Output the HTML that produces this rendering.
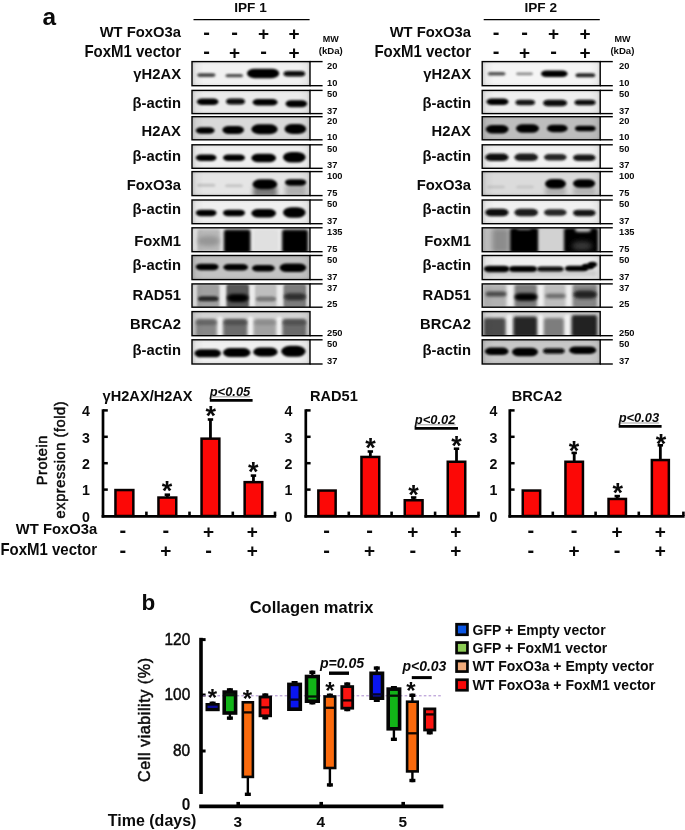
<!DOCTYPE html>
<html lang="en"><head><meta charset="utf-8"><title>Figure</title>
<style>html,body{margin:0;padding:0;background:#fff}svg{display:block}text{font-family:'Liberation Sans', Arial, Helvetica, sans-serif;fill:#0a0a0a}</style>
</head><body>
<svg width="685" height="830" viewBox="0 0 685 830">
<rect width="685" height="830" fill="#fff"/>
<defs><filter id="b1_0" x="-30%" y="-60%" width="160%" height="220%"><feGaussianBlur stdDeviation="1.0"/></filter><filter id="b1_3" x="-30%" y="-60%" width="160%" height="220%"><feGaussianBlur stdDeviation="1.3"/></filter><filter id="b1_1" x="-30%" y="-60%" width="160%" height="220%"><feGaussianBlur stdDeviation="1.1"/></filter><filter id="b1_2" x="-30%" y="-60%" width="160%" height="220%"><feGaussianBlur stdDeviation="1.2"/></filter><filter id="b2_0" x="-30%" y="-60%" width="160%" height="220%"><feGaussianBlur stdDeviation="2.0"/></filter><filter id="b2_5" x="-30%" y="-60%" width="160%" height="220%"><feGaussianBlur stdDeviation="2.5"/></filter><filter id="b1_5" x="-30%" y="-60%" width="160%" height="220%"><feGaussianBlur stdDeviation="1.5"/></filter><filter id="b1_4" x="-30%" y="-60%" width="160%" height="220%"><feGaussianBlur stdDeviation="1.4"/></filter><filter id="b2_2" x="-30%" y="-60%" width="160%" height="220%"><feGaussianBlur stdDeviation="2.2"/></filter><filter id="b1_8" x="-30%" y="-60%" width="160%" height="220%"><feGaussianBlur stdDeviation="1.8"/></filter><filter id="b1_6" x="-30%" y="-60%" width="160%" height="220%"><feGaussianBlur stdDeviation="1.6"/></filter></defs>
<defs><linearGradient id="vigH" x1="0" y1="0" x2="1" y2="0"><stop offset="0" stop-color="#000" stop-opacity="0.16"/><stop offset="0.035" stop-color="#000" stop-opacity="0.04"/><stop offset="0.1" stop-color="#000" stop-opacity="0"/><stop offset="0.9" stop-color="#000" stop-opacity="0"/><stop offset="0.965" stop-color="#000" stop-opacity="0.04"/><stop offset="1" stop-color="#000" stop-opacity="0.16"/></linearGradient></defs>
<text x="42.6" y="24.9" font-size="24.4" font-weight="bold" text-anchor="start">a</text>
<text x="250.5" y="11.8" font-size="13.6" font-weight="bold" text-anchor="middle">IPF 1</text>
<line x1="193.5" y1="19.6" x2="309.6" y2="19.6" stroke="#000" stroke-width="1.2"/>
<text transform="translate(181 36.6) scale(1 1.045)" font-size="14.8" font-weight="bold" text-anchor="end">WT FoxO3a</text>
<text transform="translate(181 56.8) scale(1 1.045)" font-size="15.0" font-weight="bold" text-anchor="end">FoxM1 vector</text>
<text x="206.5" y="39.0" font-size="20" font-weight="bold" text-anchor="middle">-</text>
<text x="206.5" y="58.3" font-size="20" font-weight="bold" text-anchor="middle">-</text>
<text x="234.6" y="39.0" font-size="20" font-weight="bold" text-anchor="middle">-</text>
<text x="234.6" y="58.8" font-size="19" font-weight="bold" text-anchor="middle">+</text>
<text x="263.6" y="39.5" font-size="19" font-weight="bold" text-anchor="middle">+</text>
<text x="263.6" y="58.3" font-size="20" font-weight="bold" text-anchor="middle">-</text>
<text x="294.0" y="39.5" font-size="19" font-weight="bold" text-anchor="middle">+</text>
<text x="294.0" y="58.8" font-size="19" font-weight="bold" text-anchor="middle">+</text>
<text x="330.8" y="41.5" font-size="9.0" font-weight="bold" text-anchor="middle">MW</text>
<text x="330.8" y="53.8" font-size="9.6" font-weight="bold" text-anchor="middle">(kDa)</text>
<clipPath id="cL0"><rect x="192.0" y="61.6" width="118.00" height="24.10"/></clipPath>
<g clip-path="url(#cL0)">
<rect x="192.00" y="61.60" width="118.60" height="24.10" fill="url(#bgL0)"/>
<rect x="197.20" y="73.30" width="18.30" height="3.60" fill="rgb(70,70,70)" rx="2.9" ry="1.8" filter="url(#b1_0)"/>
<rect x="225.40" y="74.10" width="17.70" height="3.20" fill="rgb(80,80,80)" rx="2.6" ry="1.6" filter="url(#b1_0)"/>
<rect x="247.00" y="68.65" width="32.20" height="9.50" fill="rgb(0,0,0)" rx="7.6" ry="4.8" filter="url(#b1_3)"/>
<rect x="283.50" y="71.05" width="21.70" height="5.50" fill="rgb(10,10,10)" rx="4.4" ry="2.8" filter="url(#b1_1)"/>
<rect x="192.00" y="61.60" width="118.60" height="24.10" fill="url(#vigH)"/>
</g>
<linearGradient id="bgL0" x1="0" y1="0" x2="0" y2="1"><stop offset="0" stop-color="rgb(226,226,226)"/><stop offset="0.14" stop-color="rgb(241,241,241)"/><stop offset="0.86" stop-color="rgb(241,241,241)"/><stop offset="1" stop-color="rgb(226,226,226)"/></linearGradient>
<rect x="192.00" y="61.60" width="118.00" height="24.10" fill="none" stroke="#000" stroke-width="1.4"/>
<line x1="309.6" y1="61.6" x2="322.6" y2="61.6" stroke="#000" stroke-width="1.4"/>
<text x="327.0" y="68.6" font-size="9.3" font-weight="bold" text-anchor="start">20</text>
<line x1="309.6" y1="85.7" x2="322.6" y2="85.7" stroke="#000" stroke-width="1.4"/>
<text x="327.0" y="85.60000000000001" font-size="9.3" font-weight="bold" text-anchor="start">10</text>
<text transform="translate(181 79.0) scale(1 1.045)" font-size="14.8" font-weight="bold" text-anchor="end">γH2AX</text>
<clipPath id="cL1"><rect x="192.0" y="90.4" width="118.00" height="23.20"/></clipPath>
<g clip-path="url(#cL1)">
<rect x="192.00" y="90.40" width="118.60" height="23.20" fill="url(#bgL1)"/>
<rect x="196.80" y="98.45" width="21.70" height="6.50" fill="rgb(5,5,5)" rx="5.2" ry="3.2" filter="url(#b1_1)"/>
<rect x="226.00" y="98.40" width="19.00" height="6.00" fill="rgb(10,10,10)" rx="4.8" ry="3.0" filter="url(#b1_1)"/>
<rect x="252.60" y="99.05" width="25.00" height="6.50" fill="rgb(5,5,5)" rx="5.2" ry="3.2" filter="url(#b1_1)"/>
<rect x="285.50" y="100.20" width="21.70" height="7.00" fill="rgb(5,5,5)" rx="5.6" ry="3.5" filter="url(#b1_1)"/>
<rect x="192.00" y="90.40" width="118.60" height="23.20" fill="url(#vigH)"/>
</g>
<linearGradient id="bgL1" x1="0" y1="0" x2="0" y2="1"><stop offset="0" stop-color="rgb(220,220,220)"/><stop offset="0.14" stop-color="rgb(235,235,235)"/><stop offset="0.86" stop-color="rgb(235,235,235)"/><stop offset="1" stop-color="rgb(220,220,220)"/></linearGradient>
<rect x="192.00" y="90.40" width="118.00" height="23.20" fill="none" stroke="#000" stroke-width="1.4"/>
<line x1="309.6" y1="90.4" x2="322.6" y2="90.4" stroke="#000" stroke-width="1.4"/>
<text x="327.0" y="97.4" font-size="9.3" font-weight="bold" text-anchor="start">50</text>
<line x1="309.6" y1="113.6" x2="322.6" y2="113.6" stroke="#000" stroke-width="1.4"/>
<text x="327.0" y="113.5" font-size="9.3" font-weight="bold" text-anchor="start">37</text>
<text transform="translate(181 107.5) scale(1 1.045)" font-size="14.8" font-weight="bold" text-anchor="end">β-actin</text>
<clipPath id="cL2"><rect x="192.0" y="116.7" width="118.00" height="23.10"/></clipPath>
<g clip-path="url(#cL2)">
<rect x="192.00" y="116.70" width="118.60" height="23.10" fill="url(#bgL2)"/>
<rect x="195.80" y="127.25" width="18.80" height="6.50" fill="rgb(5,5,5)" rx="5.2" ry="3.2" filter="url(#b1_2)"/>
<rect x="222.40" y="126.00" width="21.60" height="8.00" fill="rgb(0,0,0)" rx="6.4" ry="4.0" filter="url(#b1_2)"/>
<rect x="251.40" y="124.30" width="26.20" height="10.00" fill="rgb(0,0,0)" rx="8.0" ry="5.0" filter="url(#b1_3)"/>
<rect x="284.50" y="124.00" width="21.70" height="10.00" fill="rgb(0,0,0)" rx="8.0" ry="5.0" filter="url(#b1_3)"/>
<rect x="192.00" y="116.70" width="118.60" height="23.10" fill="url(#vigH)"/>
</g>
<linearGradient id="bgL2" x1="0" y1="0" x2="0" y2="1"><stop offset="0" stop-color="rgb(202,202,202)"/><stop offset="0.14" stop-color="rgb(217,217,217)"/><stop offset="0.86" stop-color="rgb(217,217,217)"/><stop offset="1" stop-color="rgb(202,202,202)"/></linearGradient>
<rect x="192.00" y="116.70" width="118.00" height="23.10" fill="none" stroke="#000" stroke-width="1.4"/>
<line x1="309.6" y1="116.7" x2="322.6" y2="116.7" stroke="#000" stroke-width="1.4"/>
<text x="327.0" y="123.7" font-size="9.3" font-weight="bold" text-anchor="start">20</text>
<line x1="309.6" y1="139.8" x2="322.6" y2="139.8" stroke="#000" stroke-width="1.4"/>
<text x="327.0" y="139.70000000000002" font-size="9.3" font-weight="bold" text-anchor="start">10</text>
<text transform="translate(181 136.1) scale(1 1.045)" font-size="14.8" font-weight="bold" text-anchor="end">H2AX</text>
<clipPath id="cL3"><rect x="192.0" y="144.8" width="118.00" height="23.50"/></clipPath>
<g clip-path="url(#cL3)">
<rect x="192.00" y="144.80" width="118.60" height="23.50" fill="url(#bgL3)"/>
<rect x="195.80" y="154.45" width="20.70" height="6.50" fill="rgb(0,0,0)" rx="5.2" ry="3.2" filter="url(#b1_1)"/>
<rect x="223.00" y="154.45" width="22.00" height="6.50" fill="rgb(0,0,0)" rx="5.2" ry="3.2" filter="url(#b1_1)"/>
<rect x="251.40" y="153.85" width="24.60" height="8.50" fill="rgb(0,0,0)" rx="6.8" ry="4.2" filter="url(#b1_2)"/>
<rect x="283.00" y="152.05" width="22.60" height="10.50" fill="rgb(0,0,0)" rx="8.4" ry="5.2" filter="url(#b1_2)"/>
<rect x="192.00" y="144.80" width="118.60" height="23.50" fill="url(#vigH)"/>
</g>
<linearGradient id="bgL3" x1="0" y1="0" x2="0" y2="1"><stop offset="0" stop-color="rgb(224,224,224)"/><stop offset="0.14" stop-color="rgb(239,239,239)"/><stop offset="0.86" stop-color="rgb(239,239,239)"/><stop offset="1" stop-color="rgb(224,224,224)"/></linearGradient>
<rect x="192.00" y="144.80" width="118.00" height="23.50" fill="none" stroke="#000" stroke-width="1.4"/>
<line x1="309.6" y1="144.8" x2="322.6" y2="144.8" stroke="#000" stroke-width="1.4"/>
<text x="327.0" y="151.8" font-size="9.3" font-weight="bold" text-anchor="start">50</text>
<line x1="309.6" y1="168.3" x2="322.6" y2="168.3" stroke="#000" stroke-width="1.4"/>
<text x="327.0" y="168.20000000000002" font-size="9.3" font-weight="bold" text-anchor="start">37</text>
<text transform="translate(181 161.0) scale(1 1.045)" font-size="14.8" font-weight="bold" text-anchor="end">β-actin</text>
<clipPath id="cL4"><rect x="192.0" y="171.6" width="118.00" height="24.00"/></clipPath>
<g clip-path="url(#cL4)">
<rect x="192.00" y="171.60" width="118.60" height="24.00" fill="url(#bgL4)"/>
<rect x="253.00" y="186.00" width="24.00" height="11.00" fill="rgb(120,120,120)" rx="2.5" filter="url(#b2_0)"/>
<rect x="285.00" y="184.00" width="21.00" height="13.00" fill="rgb(175,175,175)" rx="2.5" filter="url(#b2_5)"/>
<rect x="197.00" y="183.80" width="18.50" height="3.00" fill="rgb(195,195,195)" rx="2.4" ry="1.5" filter="url(#b1_2)"/>
<rect x="225.00" y="184.20" width="18.00" height="3.00" fill="rgb(198,198,198)" rx="2.4" ry="1.5" filter="url(#b1_2)"/>
<rect x="252.60" y="179.30" width="24.60" height="10.00" fill="rgb(0,0,0)" rx="8.0" ry="5.0" filter="url(#b1_3)"/>
<rect x="285.00" y="179.15" width="21.20" height="6.50" fill="rgb(0,0,0)" rx="5.2" ry="3.2" filter="url(#b1_2)"/>
<rect x="192.00" y="171.60" width="118.60" height="24.00" fill="url(#vigH)"/>
</g>
<linearGradient id="bgL4" x1="0" y1="0" x2="0" y2="1"><stop offset="0" stop-color="rgb(214,214,214)"/><stop offset="0.14" stop-color="rgb(229,229,229)"/><stop offset="0.86" stop-color="rgb(229,229,229)"/><stop offset="1" stop-color="rgb(214,214,214)"/></linearGradient>
<rect x="192.00" y="171.60" width="118.00" height="24.00" fill="none" stroke="#000" stroke-width="1.4"/>
<line x1="309.6" y1="171.6" x2="322.6" y2="171.6" stroke="#000" stroke-width="1.4"/>
<text x="327.0" y="178.6" font-size="9.3" font-weight="bold" text-anchor="start">100</text>
<line x1="309.6" y1="195.6" x2="322.6" y2="195.6" stroke="#000" stroke-width="1.4"/>
<text x="327.0" y="195.5" font-size="9.3" font-weight="bold" text-anchor="start">75</text>
<text transform="translate(181 189.7) scale(1 1.045)" font-size="14.8" font-weight="bold" text-anchor="end">FoxO3a</text>
<clipPath id="cL5"><rect x="192.0" y="200.0" width="118.00" height="23.70"/></clipPath>
<g clip-path="url(#cL5)">
<rect x="192.00" y="200.00" width="118.60" height="23.70" fill="url(#bgL5)"/>
<rect x="195.80" y="209.65" width="20.70" height="6.50" fill="rgb(0,0,0)" rx="5.2" ry="3.2" filter="url(#b1_1)"/>
<rect x="223.00" y="209.65" width="22.00" height="6.50" fill="rgb(0,0,0)" rx="5.2" ry="3.2" filter="url(#b1_1)"/>
<rect x="251.40" y="209.05" width="24.60" height="8.50" fill="rgb(0,0,0)" rx="6.8" ry="4.2" filter="url(#b1_2)"/>
<rect x="283.00" y="207.25" width="22.60" height="10.50" fill="rgb(0,0,0)" rx="8.4" ry="5.2" filter="url(#b1_2)"/>
<rect x="192.00" y="200.00" width="118.60" height="23.70" fill="url(#vigH)"/>
</g>
<linearGradient id="bgL5" x1="0" y1="0" x2="0" y2="1"><stop offset="0" stop-color="rgb(224,224,224)"/><stop offset="0.14" stop-color="rgb(239,239,239)"/><stop offset="0.86" stop-color="rgb(239,239,239)"/><stop offset="1" stop-color="rgb(224,224,224)"/></linearGradient>
<rect x="192.00" y="200.00" width="118.00" height="23.70" fill="none" stroke="#000" stroke-width="1.4"/>
<line x1="309.6" y1="200.0" x2="322.6" y2="200.0" stroke="#000" stroke-width="1.4"/>
<text x="327.0" y="207.0" font-size="9.3" font-weight="bold" text-anchor="start">50</text>
<line x1="309.6" y1="223.7" x2="322.6" y2="223.7" stroke="#000" stroke-width="1.4"/>
<text x="327.0" y="223.6" font-size="9.3" font-weight="bold" text-anchor="start">37</text>
<text transform="translate(181 214.3) scale(1 1.045)" font-size="14.8" font-weight="bold" text-anchor="end">β-actin</text>
<clipPath id="cL6"><rect x="192.0" y="227.8" width="118.00" height="23.90"/></clipPath>
<g clip-path="url(#cL6)">
<rect x="192.00" y="227.80" width="118.60" height="23.90" fill="url(#bgL6)"/>
<rect x="197.00" y="229.00" width="23.50" height="23.00" fill="rgb(184,184,184)" rx="2.5" filter="url(#b1_5)"/>
<rect x="223.80" y="229.50" width="26.80" height="23.50" fill="rgb(0,0,0)" rx="2.5" filter="url(#b1_4)"/>
<rect x="253.00" y="229.00" width="26.00" height="23.00" fill="rgb(224,224,224)" rx="2.5" filter="url(#b1_5)"/>
<rect x="282.00" y="229.50" width="26.00" height="23.50" fill="rgb(0,0,0)" rx="2.5" filter="url(#b1_4)"/>
<rect x="198.00" y="236.00" width="21.50" height="10.00" fill="rgb(150,150,150)" rx="8.0" ry="5.0" filter="url(#b2_0)"/>
<rect x="192.00" y="227.80" width="118.60" height="23.90" fill="url(#vigH)"/>
</g>
<linearGradient id="bgL6" x1="0" y1="0" x2="0" y2="1"><stop offset="0" stop-color="rgb(226,226,226)"/><stop offset="0.14" stop-color="rgb(241,241,241)"/><stop offset="0.86" stop-color="rgb(241,241,241)"/><stop offset="1" stop-color="rgb(226,226,226)"/></linearGradient>
<rect x="192.00" y="227.80" width="118.00" height="23.90" fill="none" stroke="#000" stroke-width="1.4"/>
<line x1="309.6" y1="227.8" x2="322.6" y2="227.8" stroke="#000" stroke-width="1.4"/>
<text x="327.0" y="234.8" font-size="9.3" font-weight="bold" text-anchor="start">135</text>
<line x1="309.6" y1="251.7" x2="322.6" y2="251.7" stroke="#000" stroke-width="1.4"/>
<text x="327.0" y="251.6" font-size="9.3" font-weight="bold" text-anchor="start">75</text>
<text transform="translate(181 245.8) scale(1 1.045)" font-size="14.8" font-weight="bold" text-anchor="end">FoxM1</text>
<clipPath id="cL7"><rect x="192.0" y="255.5" width="118.00" height="24.10"/></clipPath>
<g clip-path="url(#cL7)">
<rect x="192.00" y="255.50" width="118.60" height="24.10" fill="url(#bgL7)"/>
<rect x="195.80" y="263.65" width="22.70" height="6.50" fill="rgb(0,0,0)" rx="5.2" ry="3.2" filter="url(#b1_2)"/>
<rect x="223.40" y="264.05" width="24.60" height="6.50" fill="rgb(5,5,5)" rx="5.2" ry="3.2" filter="url(#b1_2)"/>
<rect x="252.00" y="265.05" width="22.70" height="6.50" fill="rgb(5,5,5)" rx="5.2" ry="3.2" filter="url(#b1_2)"/>
<rect x="279.60" y="263.45" width="26.60" height="8.50" fill="rgb(0,0,0)" rx="6.8" ry="4.2" filter="url(#b1_2)"/>
<rect x="192.00" y="255.50" width="118.60" height="24.10" fill="url(#vigH)"/>
</g>
<linearGradient id="bgL7" x1="0" y1="0" x2="0" y2="1"><stop offset="0" stop-color="rgb(180,180,180)"/><stop offset="0.14" stop-color="rgb(195,195,195)"/><stop offset="0.86" stop-color="rgb(195,195,195)"/><stop offset="1" stop-color="rgb(180,180,180)"/></linearGradient>
<rect x="192.00" y="255.50" width="118.00" height="24.10" fill="none" stroke="#000" stroke-width="1.4"/>
<line x1="309.6" y1="255.5" x2="322.6" y2="255.5" stroke="#000" stroke-width="1.4"/>
<text x="327.0" y="262.5" font-size="9.3" font-weight="bold" text-anchor="start">50</text>
<line x1="309.6" y1="279.6" x2="322.6" y2="279.6" stroke="#000" stroke-width="1.4"/>
<text x="327.0" y="279.5" font-size="9.3" font-weight="bold" text-anchor="start">37</text>
<text transform="translate(181 269.9) scale(1 1.045)" font-size="14.8" font-weight="bold" text-anchor="end">β-actin</text>
<clipPath id="cL8"><rect x="192.0" y="283.9" width="118.00" height="23.30"/></clipPath>
<g clip-path="url(#cL8)">
<rect x="192.00" y="283.90" width="118.60" height="23.30" fill="url(#bgL8)"/>
<rect x="196.80" y="284.00" width="22.70" height="24.00" fill="rgb(160,160,160)" rx="2.5" filter="url(#b1_3)"/>
<rect x="226.40" y="284.00" width="22.60" height="24.00" fill="rgb(88,88,88)" rx="2.5" filter="url(#b1_3)"/>
<rect x="255.00" y="284.00" width="21.60" height="24.00" fill="rgb(190,190,190)" rx="2.5" filter="url(#b1_3)"/>
<rect x="283.50" y="284.00" width="22.70" height="24.00" fill="rgb(125,125,125)" rx="2.5" filter="url(#b1_3)"/>
<rect x="198.00" y="296.20" width="20.50" height="5.00" fill="rgb(40,40,40)" rx="4.0" ry="2.5" filter="url(#b1_3)"/>
<rect x="227.00" y="294.00" width="21.50" height="8.00" fill="rgb(5,5,5)" rx="6.4" ry="4.0" filter="url(#b1_4)"/>
<rect x="256.00" y="296.50" width="20.00" height="5.00" fill="rgb(120,120,120)" rx="4.0" ry="2.5" filter="url(#b1_3)"/>
<rect x="284.00" y="293.30" width="22.00" height="7.00" fill="rgb(45,45,45)" rx="5.6" ry="3.5" filter="url(#b1_4)"/>
<rect x="192.00" y="283.90" width="118.60" height="23.30" fill="url(#vigH)"/>
</g>
<linearGradient id="bgL8" x1="0" y1="0" x2="0" y2="1"><stop offset="0" stop-color="rgb(220,220,220)"/><stop offset="0.14" stop-color="rgb(235,235,235)"/><stop offset="0.86" stop-color="rgb(235,235,235)"/><stop offset="1" stop-color="rgb(220,220,220)"/></linearGradient>
<rect x="192.00" y="283.90" width="118.00" height="23.30" fill="none" stroke="#000" stroke-width="1.4"/>
<line x1="309.6" y1="283.9" x2="322.6" y2="283.9" stroke="#000" stroke-width="1.4"/>
<text x="327.0" y="290.9" font-size="9.3" font-weight="bold" text-anchor="start">37</text>
<line x1="309.6" y1="307.2" x2="322.6" y2="307.2" stroke="#000" stroke-width="1.4"/>
<text x="327.0" y="307.09999999999997" font-size="9.3" font-weight="bold" text-anchor="start">25</text>
<text transform="translate(181 300.2) scale(1 1.045)" font-size="14.8" font-weight="bold" text-anchor="end">RAD51</text>
<clipPath id="cL9"><rect x="192.0" y="311.6" width="118.00" height="24.10"/></clipPath>
<g clip-path="url(#cL9)">
<rect x="192.00" y="311.60" width="118.60" height="24.10" fill="url(#bgL9)"/>
<rect x="217.30" y="316.50" width="5.40" height="20.50" fill="rgb(240,240,240)" rx="2.5" filter="url(#b1_3)"/>
<rect x="247.80" y="316.50" width="5.40" height="20.50" fill="rgb(240,240,240)" rx="2.5" filter="url(#b1_3)"/>
<rect x="276.50" y="316.50" width="5.30" height="20.50" fill="rgb(240,240,240)" rx="2.5" filter="url(#b1_3)"/>
<rect x="195.80" y="319.00" width="20.70" height="18.00" fill="rgb(135,135,135)" rx="2.5" filter="url(#b1_4)"/>
<rect x="223.40" y="319.00" width="23.60" height="18.00" fill="rgb(108,108,108)" rx="2.5" filter="url(#b1_4)"/>
<rect x="254.00" y="319.00" width="21.70" height="18.00" fill="rgb(162,162,162)" rx="2.5" filter="url(#b1_4)"/>
<rect x="282.60" y="319.00" width="23.60" height="18.00" fill="rgb(106,106,106)" rx="2.5" filter="url(#b1_4)"/>
<rect x="196.00" y="319.90" width="20.50" height="5.00" fill="rgb(100,100,100)" rx="4.0" ry="2.5" filter="url(#b1_5)"/>
<rect x="224.00" y="319.90" width="23.00" height="5.00" fill="rgb(80,80,80)" rx="4.0" ry="2.5" filter="url(#b1_5)"/>
<rect x="254.50" y="319.90" width="21.00" height="5.00" fill="rgb(140,140,140)" rx="4.0" ry="2.5" filter="url(#b1_5)"/>
<rect x="283.00" y="319.90" width="23.00" height="5.00" fill="rgb(80,80,80)" rx="4.0" ry="2.5" filter="url(#b1_5)"/>
<rect x="192.00" y="311.60" width="118.60" height="24.10" fill="url(#vigH)"/>
</g>
<linearGradient id="bgL9" x1="0" y1="0" x2="0" y2="1"><stop offset="0" stop-color="rgb(198,198,198)"/><stop offset="0.14" stop-color="rgb(213,213,213)"/><stop offset="0.86" stop-color="rgb(213,213,213)"/><stop offset="1" stop-color="rgb(198,198,198)"/></linearGradient>
<rect x="192.00" y="311.60" width="118.00" height="24.10" fill="none" stroke="#000" stroke-width="1.4"/>
<line x1="309.6" y1="335.7" x2="322.6" y2="335.7" stroke="#000" stroke-width="1.4"/>
<text x="327.0" y="335.59999999999997" font-size="9.3" font-weight="bold" text-anchor="start">250</text>
<text transform="translate(181 328.9) scale(1 1.045)" font-size="14.8" font-weight="bold" text-anchor="end">BRCA2</text>
<clipPath id="cL10"><rect x="192.0" y="339.8" width="118.00" height="24.20"/></clipPath>
<g clip-path="url(#cL10)">
<rect x="192.00" y="339.80" width="118.60" height="24.20" fill="url(#bgL10)"/>
<rect x="194.50" y="349.30" width="26.50" height="8.00" fill="rgb(0,0,0)" rx="6.4" ry="4.0" filter="url(#b1_2)"/>
<rect x="223.00" y="348.10" width="27.50" height="9.00" fill="rgb(0,0,0)" rx="7.2" ry="4.5" filter="url(#b1_2)"/>
<rect x="253.20" y="347.40" width="24.40" height="9.00" fill="rgb(0,0,0)" rx="7.2" ry="4.5" filter="url(#b1_2)"/>
<rect x="281.20" y="345.80" width="24.40" height="11.00" fill="rgb(0,0,0)" rx="8.8" ry="5.5" filter="url(#b1_2)"/>
<rect x="192.00" y="339.80" width="118.60" height="24.20" fill="url(#vigH)"/>
</g>
<linearGradient id="bgL10" x1="0" y1="0" x2="0" y2="1"><stop offset="0" stop-color="rgb(224,224,224)"/><stop offset="0.14" stop-color="rgb(239,239,239)"/><stop offset="0.86" stop-color="rgb(239,239,239)"/><stop offset="1" stop-color="rgb(224,224,224)"/></linearGradient>
<rect x="192.00" y="339.80" width="118.00" height="24.20" fill="none" stroke="#000" stroke-width="1.4"/>
<line x1="309.6" y1="339.8" x2="322.6" y2="339.8" stroke="#000" stroke-width="1.4"/>
<text x="327.0" y="346.8" font-size="9.3" font-weight="bold" text-anchor="start">50</text>
<line x1="309.6" y1="364.0" x2="322.6" y2="364.0" stroke="#000" stroke-width="1.4"/>
<text x="327.0" y="363.9" font-size="9.3" font-weight="bold" text-anchor="start">37</text>
<text transform="translate(181 355.4) scale(1 1.045)" font-size="14.8" font-weight="bold" text-anchor="end">β-actin</text>
<text x="540.7" y="11.8" font-size="13.6" font-weight="bold" text-anchor="middle">IPF 2</text>
<line x1="483.7" y1="19.6" x2="599.8" y2="19.6" stroke="#000" stroke-width="1.2"/>
<text transform="translate(471 36.6) scale(1 1.045)" font-size="14.8" font-weight="bold" text-anchor="end">WT FoxO3a</text>
<text transform="translate(471 56.8) scale(1 1.045)" font-size="15.0" font-weight="bold" text-anchor="end">FoxM1 vector</text>
<text x="496.0" y="39.0" font-size="20" font-weight="bold" text-anchor="middle">-</text>
<text x="496.0" y="58.3" font-size="20" font-weight="bold" text-anchor="middle">-</text>
<text x="524.6" y="39.0" font-size="20" font-weight="bold" text-anchor="middle">-</text>
<text x="524.6" y="58.8" font-size="19" font-weight="bold" text-anchor="middle">+</text>
<text x="553.5" y="39.5" font-size="19" font-weight="bold" text-anchor="middle">+</text>
<text x="553.5" y="58.3" font-size="20" font-weight="bold" text-anchor="middle">-</text>
<text x="585.0" y="39.5" font-size="19" font-weight="bold" text-anchor="middle">+</text>
<text x="585.0" y="58.8" font-size="19" font-weight="bold" text-anchor="middle">+</text>
<text x="622.4" y="41.5" font-size="9.0" font-weight="bold" text-anchor="middle">MW</text>
<text x="622.4" y="53.8" font-size="9.6" font-weight="bold" text-anchor="middle">(kDa)</text>
<clipPath id="cR0"><rect x="482.2" y="61.6" width="118.00" height="24.10"/></clipPath>
<g clip-path="url(#cR0)">
<rect x="482.20" y="61.60" width="118.60" height="24.10" fill="url(#bgR0)"/>
<rect x="487.80" y="72.00" width="17.70" height="3.60" fill="rgb(85,85,85)" rx="2.9" ry="1.8" filter="url(#b1_0)"/>
<rect x="516.00" y="72.40" width="17.00" height="2.80" fill="rgb(140,140,140)" rx="2.2" ry="1.4" filter="url(#b1_0)"/>
<rect x="541.00" y="70.55" width="26.60" height="6.50" fill="rgb(0,0,0)" rx="5.2" ry="3.2" filter="url(#b1_2)"/>
<rect x="575.50" y="73.30" width="19.70" height="4.00" fill="rgb(40,40,40)" rx="3.2" ry="2.0" filter="url(#b1_0)"/>
<rect x="482.20" y="61.60" width="118.60" height="24.10" fill="url(#vigH)"/>
</g>
<linearGradient id="bgR0" x1="0" y1="0" x2="0" y2="1"><stop offset="0" stop-color="rgb(230,230,230)"/><stop offset="0.14" stop-color="rgb(245,245,245)"/><stop offset="0.86" stop-color="rgb(245,245,245)"/><stop offset="1" stop-color="rgb(230,230,230)"/></linearGradient>
<rect x="482.20" y="61.60" width="118.00" height="24.10" fill="none" stroke="#000" stroke-width="1.4"/>
<line x1="599.8" y1="61.6" x2="612.8" y2="61.6" stroke="#000" stroke-width="1.4"/>
<text x="619.0" y="68.6" font-size="9.3" font-weight="bold" text-anchor="start">20</text>
<line x1="599.8" y1="85.7" x2="612.8" y2="85.7" stroke="#000" stroke-width="1.4"/>
<text x="619.0" y="85.60000000000001" font-size="9.3" font-weight="bold" text-anchor="start">10</text>
<text transform="translate(471 79.0) scale(1 1.045)" font-size="14.8" font-weight="bold" text-anchor="end">γH2AX</text>
<clipPath id="cR1"><rect x="482.2" y="90.4" width="118.00" height="23.20"/></clipPath>
<g clip-path="url(#cR1)">
<rect x="482.20" y="90.40" width="118.60" height="23.20" fill="url(#bgR1)"/>
<rect x="486.40" y="98.55" width="22.10" height="6.50" fill="rgb(5,5,5)" rx="5.2" ry="3.2" filter="url(#b1_1)"/>
<rect x="515.40" y="99.65" width="19.60" height="5.50" fill="rgb(20,20,20)" rx="4.4" ry="2.8" filter="url(#b1_2)"/>
<rect x="543.00" y="99.75" width="24.20" height="6.50" fill="rgb(10,10,10)" rx="5.2" ry="3.2" filter="url(#b1_1)"/>
<rect x="574.50" y="99.65" width="21.10" height="5.50" fill="rgb(10,10,10)" rx="4.4" ry="2.8" filter="url(#b1_1)"/>
<rect x="482.20" y="90.40" width="118.60" height="23.20" fill="url(#vigH)"/>
</g>
<linearGradient id="bgR1" x1="0" y1="0" x2="0" y2="1"><stop offset="0" stop-color="rgb(224,224,224)"/><stop offset="0.14" stop-color="rgb(239,239,239)"/><stop offset="0.86" stop-color="rgb(239,239,239)"/><stop offset="1" stop-color="rgb(224,224,224)"/></linearGradient>
<rect x="482.20" y="90.40" width="118.00" height="23.20" fill="none" stroke="#000" stroke-width="1.4"/>
<line x1="599.8" y1="90.4" x2="612.8" y2="90.4" stroke="#000" stroke-width="1.4"/>
<text x="619.0" y="97.4" font-size="9.3" font-weight="bold" text-anchor="start">50</text>
<line x1="599.8" y1="113.6" x2="612.8" y2="113.6" stroke="#000" stroke-width="1.4"/>
<text x="619.0" y="113.5" font-size="9.3" font-weight="bold" text-anchor="start">37</text>
<text transform="translate(471 107.5) scale(1 1.045)" font-size="14.8" font-weight="bold" text-anchor="end">β-actin</text>
<clipPath id="cR2"><rect x="482.2" y="116.7" width="118.00" height="23.10"/></clipPath>
<g clip-path="url(#cR2)">
<rect x="482.20" y="116.70" width="118.60" height="23.10" fill="url(#bgR2)"/>
<rect x="485.80" y="125.05" width="22.70" height="8.50" fill="rgb(0,0,0)" rx="6.8" ry="4.2" filter="url(#b1_3)"/>
<rect x="516.00" y="124.15" width="23.00" height="8.50" fill="rgb(0,0,0)" rx="6.8" ry="4.2" filter="url(#b1_3)"/>
<rect x="547.00" y="124.65" width="20.60" height="7.50" fill="rgb(0,0,0)" rx="6.0" ry="3.8" filter="url(#b1_3)"/>
<rect x="575.00" y="125.65" width="20.60" height="5.50" fill="rgb(5,5,5)" rx="4.4" ry="2.8" filter="url(#b1_2)"/>
<rect x="482.20" y="116.70" width="118.60" height="23.10" fill="url(#vigH)"/>
</g>
<linearGradient id="bgR2" x1="0" y1="0" x2="0" y2="1"><stop offset="0" stop-color="rgb(174,174,174)"/><stop offset="0.14" stop-color="rgb(189,189,189)"/><stop offset="0.86" stop-color="rgb(189,189,189)"/><stop offset="1" stop-color="rgb(174,174,174)"/></linearGradient>
<rect x="482.20" y="116.70" width="118.00" height="23.10" fill="none" stroke="#000" stroke-width="1.4"/>
<line x1="599.8" y1="116.7" x2="612.8" y2="116.7" stroke="#000" stroke-width="1.4"/>
<text x="619.0" y="123.7" font-size="9.3" font-weight="bold" text-anchor="start">20</text>
<line x1="599.8" y1="139.8" x2="612.8" y2="139.8" stroke="#000" stroke-width="1.4"/>
<text x="619.0" y="139.70000000000002" font-size="9.3" font-weight="bold" text-anchor="start">10</text>
<text transform="translate(471 136.1) scale(1 1.045)" font-size="14.8" font-weight="bold" text-anchor="end">H2AX</text>
<clipPath id="cR3"><rect x="482.2" y="144.8" width="118.00" height="23.50"/></clipPath>
<g clip-path="url(#cR3)">
<rect x="482.20" y="144.80" width="118.60" height="23.50" fill="url(#bgR3)"/>
<rect x="485.20" y="153.55" width="23.30" height="7.50" fill="rgb(15,15,15)" rx="6.0" ry="3.8" filter="url(#b1_2)"/>
<rect x="514.40" y="153.55" width="23.60" height="7.50" fill="rgb(30,30,30)" rx="6.0" ry="3.8" filter="url(#b1_2)"/>
<rect x="544.00" y="154.05" width="22.60" height="6.50" fill="rgb(40,40,40)" rx="5.2" ry="3.2" filter="url(#b1_2)"/>
<rect x="573.00" y="154.45" width="22.60" height="6.50" fill="rgb(25,25,25)" rx="5.2" ry="3.2" filter="url(#b1_2)"/>
<rect x="482.20" y="144.80" width="118.60" height="23.50" fill="url(#vigH)"/>
</g>
<linearGradient id="bgR3" x1="0" y1="0" x2="0" y2="1"><stop offset="0" stop-color="rgb(226,226,226)"/><stop offset="0.14" stop-color="rgb(241,241,241)"/><stop offset="0.86" stop-color="rgb(241,241,241)"/><stop offset="1" stop-color="rgb(226,226,226)"/></linearGradient>
<rect x="482.20" y="144.80" width="118.00" height="23.50" fill="none" stroke="#000" stroke-width="1.4"/>
<line x1="599.8" y1="144.8" x2="612.8" y2="144.8" stroke="#000" stroke-width="1.4"/>
<text x="619.0" y="151.8" font-size="9.3" font-weight="bold" text-anchor="start">50</text>
<line x1="599.8" y1="168.3" x2="612.8" y2="168.3" stroke="#000" stroke-width="1.4"/>
<text x="619.0" y="168.20000000000002" font-size="9.3" font-weight="bold" text-anchor="start">37</text>
<text transform="translate(471 161.0) scale(1 1.045)" font-size="14.8" font-weight="bold" text-anchor="end">β-actin</text>
<clipPath id="cR4"><rect x="482.2" y="171.6" width="118.00" height="24.00"/></clipPath>
<g clip-path="url(#cR4)">
<rect x="482.20" y="171.60" width="118.60" height="24.00" fill="url(#bgR4)"/>
<rect x="545.00" y="186.00" width="21.00" height="10.00" fill="rgb(175,175,175)" rx="2.5" filter="url(#b2_2)"/>
<rect x="573.00" y="186.00" width="22.00" height="10.00" fill="rgb(180,180,180)" rx="2.5" filter="url(#b2_2)"/>
<rect x="487.00" y="185.40" width="18.00" height="3.00" fill="rgb(198,198,198)" rx="2.4" ry="1.5" filter="url(#b1_2)"/>
<rect x="516.00" y="185.40" width="18.00" height="3.00" fill="rgb(200,200,200)" rx="2.4" ry="1.5" filter="url(#b1_2)"/>
<rect x="545.00" y="179.05" width="21.00" height="9.50" fill="rgb(0,0,0)" rx="7.6" ry="4.8" filter="url(#b1_3)"/>
<rect x="573.00" y="179.15" width="22.20" height="8.50" fill="rgb(0,0,0)" rx="6.8" ry="4.2" filter="url(#b1_3)"/>
<rect x="482.20" y="171.60" width="118.60" height="24.00" fill="url(#vigH)"/>
</g>
<linearGradient id="bgR4" x1="0" y1="0" x2="0" y2="1"><stop offset="0" stop-color="rgb(204,204,204)"/><stop offset="0.14" stop-color="rgb(219,219,219)"/><stop offset="0.86" stop-color="rgb(219,219,219)"/><stop offset="1" stop-color="rgb(204,204,204)"/></linearGradient>
<rect x="482.20" y="171.60" width="118.00" height="24.00" fill="none" stroke="#000" stroke-width="1.4"/>
<line x1="599.8" y1="171.6" x2="612.8" y2="171.6" stroke="#000" stroke-width="1.4"/>
<text x="619.0" y="178.6" font-size="9.3" font-weight="bold" text-anchor="start">100</text>
<line x1="599.8" y1="195.6" x2="612.8" y2="195.6" stroke="#000" stroke-width="1.4"/>
<text x="619.0" y="195.5" font-size="9.3" font-weight="bold" text-anchor="start">75</text>
<text transform="translate(471 189.7) scale(1 1.045)" font-size="14.8" font-weight="bold" text-anchor="end">FoxO3a</text>
<clipPath id="cR5"><rect x="482.2" y="200.0" width="118.00" height="23.70"/></clipPath>
<g clip-path="url(#cR5)">
<rect x="482.20" y="200.00" width="118.60" height="23.70" fill="url(#bgR5)"/>
<rect x="485.20" y="208.75" width="23.30" height="7.50" fill="rgb(15,15,15)" rx="6.0" ry="3.8" filter="url(#b1_2)"/>
<rect x="514.40" y="208.75" width="23.60" height="7.50" fill="rgb(30,30,30)" rx="6.0" ry="3.8" filter="url(#b1_2)"/>
<rect x="544.00" y="209.25" width="22.60" height="6.50" fill="rgb(40,40,40)" rx="5.2" ry="3.2" filter="url(#b1_2)"/>
<rect x="573.00" y="209.65" width="22.60" height="6.50" fill="rgb(25,25,25)" rx="5.2" ry="3.2" filter="url(#b1_2)"/>
<rect x="482.20" y="200.00" width="118.60" height="23.70" fill="url(#vigH)"/>
</g>
<linearGradient id="bgR5" x1="0" y1="0" x2="0" y2="1"><stop offset="0" stop-color="rgb(226,226,226)"/><stop offset="0.14" stop-color="rgb(241,241,241)"/><stop offset="0.86" stop-color="rgb(241,241,241)"/><stop offset="1" stop-color="rgb(226,226,226)"/></linearGradient>
<rect x="482.20" y="200.00" width="118.00" height="23.70" fill="none" stroke="#000" stroke-width="1.4"/>
<line x1="599.8" y1="200.0" x2="612.8" y2="200.0" stroke="#000" stroke-width="1.4"/>
<text x="619.0" y="207.0" font-size="9.3" font-weight="bold" text-anchor="start">50</text>
<line x1="599.8" y1="223.7" x2="612.8" y2="223.7" stroke="#000" stroke-width="1.4"/>
<text x="619.0" y="223.6" font-size="9.3" font-weight="bold" text-anchor="start">37</text>
<text transform="translate(471 214.3) scale(1 1.045)" font-size="14.8" font-weight="bold" text-anchor="end">β-actin</text>
<clipPath id="cR6"><rect x="482.2" y="227.8" width="118.00" height="23.90"/></clipPath>
<g clip-path="url(#cR6)">
<rect x="482.20" y="227.80" width="118.60" height="23.90" fill="url(#bgR6)"/>
<rect x="481.00" y="228.00" width="16.00" height="25.00" fill="rgb(195,195,195)" rx="2.5" filter="url(#b2_5)"/>
<rect x="492.00" y="228.00" width="17.50" height="25.00" fill="rgb(140,140,140)" rx="2.5" filter="url(#b2_5)"/>
<rect x="510.00" y="228.00" width="28.50" height="25.00" fill="rgb(0,0,0)" rx="2.5" filter="url(#b1_5)"/>
<rect x="539.50" y="228.00" width="23.50" height="25.00" fill="rgb(210,210,210)" rx="2.5" filter="url(#b1_8)"/>
<rect x="564.00" y="228.00" width="34.00" height="25.00" fill="rgb(5,5,5)" rx="2.5" filter="url(#b1_5)"/>
<rect x="575.00" y="227.00" width="16.00" height="5.00" fill="rgb(190,190,190)" rx="4.0" ry="2.5" filter="url(#b1_6)"/>
<rect x="517.00" y="227.00" width="14.00" height="3.00" fill="rgb(110,110,110)" rx="2.4" ry="1.5" filter="url(#b1_5)"/>
<rect x="572.00" y="241.50" width="20.00" height="9.00" fill="rgb(55,55,55)" rx="7.2" ry="4.5" filter="url(#b2_5)"/>
<rect x="482.20" y="227.80" width="118.60" height="23.90" fill="url(#vigH)"/>
</g>
<linearGradient id="bgR6" x1="0" y1="0" x2="0" y2="1"><stop offset="0" stop-color="rgb(193,193,193)"/><stop offset="0.14" stop-color="rgb(208,208,208)"/><stop offset="0.86" stop-color="rgb(208,208,208)"/><stop offset="1" stop-color="rgb(193,193,193)"/></linearGradient>
<rect x="482.20" y="227.80" width="118.00" height="23.90" fill="none" stroke="#000" stroke-width="1.4"/>
<line x1="599.8" y1="227.8" x2="612.8" y2="227.8" stroke="#000" stroke-width="1.4"/>
<text x="619.0" y="234.8" font-size="9.3" font-weight="bold" text-anchor="start">135</text>
<line x1="599.8" y1="251.7" x2="612.8" y2="251.7" stroke="#000" stroke-width="1.4"/>
<text x="619.0" y="251.6" font-size="9.3" font-weight="bold" text-anchor="start">75</text>
<text transform="translate(471 245.8) scale(1 1.045)" font-size="14.8" font-weight="bold" text-anchor="end">FoxM1</text>
<clipPath id="cR7"><rect x="482.2" y="255.5" width="118.00" height="24.10"/></clipPath>
<g clip-path="url(#cR7)">
<rect x="482.20" y="255.50" width="118.60" height="24.10" fill="url(#bgR7)"/>
<rect x="484.00" y="270.00" width="113.00" height="7.00" fill="rgb(205,205,205)" rx="2.5" filter="url(#b2_2)"/>
<rect x="483.90" y="265.65" width="25.60" height="6.50" fill="rgb(0,0,0)" rx="5.2" ry="3.2" filter="url(#b1_3)"/>
<rect x="509.00" y="265.90" width="28.00" height="6.00" fill="rgb(5,5,5)" rx="4.8" ry="3.0" filter="url(#b1_3)"/>
<rect x="537.00" y="266.40" width="26.70" height="5.00" fill="rgb(10,10,10)" rx="4.0" ry="2.5" filter="url(#b1_3)"/>
<rect x="565.00" y="265.65" width="23.00" height="5.50" fill="rgb(5,5,5)" rx="4.4" ry="2.8" filter="url(#b1_3)"/>
<rect x="582.00" y="263.85" width="12.00" height="5.50" fill="rgb(0,0,0)" rx="4.4" ry="2.8" filter="url(#b1_3)"/>
<rect x="588.00" y="261.85" width="9.00" height="5.50" fill="rgb(0,0,0)" rx="4.4" ry="2.8" filter="url(#b1_3)"/>
<rect x="482.20" y="255.50" width="118.60" height="24.10" fill="url(#vigH)"/>
</g>
<linearGradient id="bgR7" x1="0" y1="0" x2="0" y2="1"><stop offset="0" stop-color="rgb(224,224,224)"/><stop offset="0.14" stop-color="rgb(239,239,239)"/><stop offset="0.86" stop-color="rgb(239,239,239)"/><stop offset="1" stop-color="rgb(224,224,224)"/></linearGradient>
<rect x="482.20" y="255.50" width="118.00" height="24.10" fill="none" stroke="#000" stroke-width="1.4"/>
<line x1="599.8" y1="255.5" x2="612.8" y2="255.5" stroke="#000" stroke-width="1.4"/>
<text x="619.0" y="262.5" font-size="9.3" font-weight="bold" text-anchor="start">50</text>
<line x1="599.8" y1="279.6" x2="612.8" y2="279.6" stroke="#000" stroke-width="1.4"/>
<text x="619.0" y="279.5" font-size="9.3" font-weight="bold" text-anchor="start">37</text>
<text transform="translate(471 269.9) scale(1 1.045)" font-size="14.8" font-weight="bold" text-anchor="end">β-actin</text>
<clipPath id="cR8"><rect x="482.2" y="283.9" width="118.00" height="23.30"/></clipPath>
<g clip-path="url(#cR8)">
<rect x="482.20" y="283.90" width="118.60" height="23.30" fill="url(#bgR8)"/>
<rect x="483.90" y="284.00" width="22.60" height="24.00" fill="rgb(178,178,178)" rx="2.5" filter="url(#b1_5)"/>
<rect x="514.40" y="284.00" width="22.60" height="24.00" fill="rgb(125,125,125)" rx="2.5" filter="url(#b1_5)"/>
<rect x="544.00" y="284.00" width="21.60" height="24.00" fill="rgb(190,190,190)" rx="2.5" filter="url(#b1_5)"/>
<rect x="572.50" y="284.00" width="24.70" height="24.00" fill="rgb(135,135,135)" rx="2.5" filter="url(#b1_5)"/>
<rect x="485.50" y="291.50" width="21.00" height="5.00" fill="rgb(70,70,70)" rx="4.0" ry="2.5" filter="url(#b1_4)"/>
<rect x="514.50" y="293.25" width="23.00" height="7.50" fill="rgb(5,5,5)" rx="6.0" ry="3.8" filter="url(#b1_4)"/>
<rect x="545.50" y="293.75" width="20.00" height="4.50" fill="rgb(105,105,105)" rx="3.6" ry="2.2" filter="url(#b1_4)"/>
<rect x="573.50" y="290.50" width="23.50" height="8.00" fill="rgb(35,35,35)" rx="6.4" ry="4.0" filter="url(#b1_5)"/>
<rect x="482.20" y="283.90" width="118.60" height="23.30" fill="url(#vigH)"/>
</g>
<linearGradient id="bgR8" x1="0" y1="0" x2="0" y2="1"><stop offset="0" stop-color="rgb(224,224,224)"/><stop offset="0.14" stop-color="rgb(239,239,239)"/><stop offset="0.86" stop-color="rgb(239,239,239)"/><stop offset="1" stop-color="rgb(224,224,224)"/></linearGradient>
<rect x="482.20" y="283.90" width="118.00" height="23.30" fill="none" stroke="#000" stroke-width="1.4"/>
<line x1="599.8" y1="283.9" x2="612.8" y2="283.9" stroke="#000" stroke-width="1.4"/>
<text x="619.0" y="290.9" font-size="9.3" font-weight="bold" text-anchor="start">37</text>
<line x1="599.8" y1="307.2" x2="612.8" y2="307.2" stroke="#000" stroke-width="1.4"/>
<text x="619.0" y="307.09999999999997" font-size="9.3" font-weight="bold" text-anchor="start">25</text>
<text transform="translate(471 300.2) scale(1 1.045)" font-size="14.8" font-weight="bold" text-anchor="end">RAD51</text>
<clipPath id="cR9"><rect x="482.2" y="311.6" width="118.00" height="24.10"/></clipPath>
<g clip-path="url(#cR9)">
<rect x="482.20" y="311.60" width="118.60" height="24.10" fill="url(#bgR9)"/>
<rect x="506.50" y="314.50" width="6.00" height="22.50" fill="rgb(240,240,240)" rx="2.5" filter="url(#b1_3)"/>
<rect x="538.00" y="314.50" width="5.00" height="22.50" fill="rgb(240,240,240)" rx="2.5" filter="url(#b1_3)"/>
<rect x="564.50" y="314.50" width="6.00" height="22.50" fill="rgb(240,240,240)" rx="2.5" filter="url(#b1_3)"/>
<rect x="483.90" y="318.00" width="21.60" height="19.00" fill="rgb(75,75,75)" rx="2.5" filter="url(#b1_5)"/>
<rect x="513.40" y="316.50" width="23.60" height="20.50" fill="rgb(40,40,40)" rx="2.5" filter="url(#b1_5)"/>
<rect x="544.00" y="318.00" width="19.70" height="19.00" fill="rgb(125,125,125)" rx="2.5" filter="url(#b1_5)"/>
<rect x="571.60" y="315.00" width="25.60" height="22.00" fill="rgb(35,35,35)" rx="2.5" filter="url(#b1_5)"/>
<rect x="482.20" y="311.60" width="118.60" height="24.10" fill="url(#vigH)"/>
</g>
<linearGradient id="bgR9" x1="0" y1="0" x2="0" y2="1"><stop offset="0" stop-color="rgb(202,202,202)"/><stop offset="0.14" stop-color="rgb(217,217,217)"/><stop offset="0.86" stop-color="rgb(217,217,217)"/><stop offset="1" stop-color="rgb(202,202,202)"/></linearGradient>
<rect x="482.20" y="311.60" width="118.00" height="24.10" fill="none" stroke="#000" stroke-width="1.4"/>
<line x1="599.8" y1="335.7" x2="612.8" y2="335.7" stroke="#000" stroke-width="1.4"/>
<text x="619.0" y="335.59999999999997" font-size="9.3" font-weight="bold" text-anchor="start">250</text>
<text transform="translate(471 328.9) scale(1 1.045)" font-size="14.8" font-weight="bold" text-anchor="end">BRCA2</text>
<clipPath id="cR10"><rect x="482.2" y="339.8" width="118.00" height="24.20"/></clipPath>
<g clip-path="url(#cR10)">
<rect x="482.20" y="339.80" width="118.60" height="24.20" fill="url(#bgR10)"/>
<rect x="484.90" y="347.55" width="23.60" height="7.50" fill="rgb(0,0,0)" rx="6.0" ry="3.8" filter="url(#b1_2)"/>
<rect x="512.00" y="347.75" width="26.00" height="8.50" fill="rgb(0,0,0)" rx="6.8" ry="4.2" filter="url(#b1_2)"/>
<rect x="543.00" y="348.25" width="21.70" height="5.50" fill="rgb(10,10,10)" rx="4.4" ry="2.8" filter="url(#b1_2)"/>
<rect x="569.20" y="346.45" width="27.00" height="7.50" fill="rgb(0,0,0)" rx="6.0" ry="3.8" filter="url(#b1_2)"/>
<rect x="482.20" y="339.80" width="118.60" height="24.20" fill="url(#vigH)"/>
</g>
<linearGradient id="bgR10" x1="0" y1="0" x2="0" y2="1"><stop offset="0" stop-color="rgb(184,184,184)"/><stop offset="0.14" stop-color="rgb(199,199,199)"/><stop offset="0.86" stop-color="rgb(199,199,199)"/><stop offset="1" stop-color="rgb(184,184,184)"/></linearGradient>
<rect x="482.20" y="339.80" width="118.00" height="24.20" fill="none" stroke="#000" stroke-width="1.4"/>
<line x1="599.8" y1="339.8" x2="612.8" y2="339.8" stroke="#000" stroke-width="1.4"/>
<text x="619.0" y="346.8" font-size="9.3" font-weight="bold" text-anchor="start">50</text>
<line x1="599.8" y1="364.0" x2="612.8" y2="364.0" stroke="#000" stroke-width="1.4"/>
<text x="619.0" y="363.9" font-size="9.3" font-weight="bold" text-anchor="start">37</text>
<text transform="translate(471 355.4) scale(1 1.045)" font-size="14.8" font-weight="bold" text-anchor="end">β-actin</text>
<text transform="translate(46.8,460.2) rotate(-90)" font-size="14.6" font-weight="normal" letter-spacing="0.57" stroke="#0a0a0a" stroke-width="0.5" text-anchor="middle">Protein</text>
<text transform="translate(65.4,459.6) rotate(-90)" font-size="14.6" font-weight="normal" letter-spacing="0.57" stroke="#0a0a0a" stroke-width="0.5" text-anchor="middle">expression (fold)</text>
<text transform="translate(102.6 401.2) scale(1 1.045)" font-size="14.6" font-weight="bold" text-anchor="start">γH2AX/H2AX</text>
<line x1="103.0" y1="409.3" x2="103.0" y2="517.6" stroke="#000" stroke-width="2.7"/>
<text x="89.8" y="521.8" font-size="14.2" font-weight="bold" text-anchor="end">0</text>
<line x1="103.0" y1="489.6" x2="107.8" y2="489.6" stroke="#000" stroke-width="2.5"/>
<text x="89.8" y="495.40000000000003" font-size="14.2" font-weight="bold" text-anchor="end">1</text>
<line x1="103.0" y1="463.2" x2="107.8" y2="463.2" stroke="#000" stroke-width="2.5"/>
<text x="89.8" y="469.0" font-size="14.2" font-weight="bold" text-anchor="end">2</text>
<line x1="103.0" y1="436.8" x2="107.8" y2="436.8" stroke="#000" stroke-width="2.5"/>
<text x="89.8" y="442.6" font-size="14.2" font-weight="bold" text-anchor="end">3</text>
<line x1="103.0" y1="410.4" x2="107.8" y2="410.4" stroke="#000" stroke-width="2.5"/>
<text x="89.8" y="416.2" font-size="14.2" font-weight="bold" text-anchor="end">4</text>
<line x1="101.65" y1="516.3" x2="276.2" y2="516.3" stroke="#000" stroke-width="2.8"/>
<line x1="146.4" y1="516.0" x2="146.4" y2="511.6" stroke="#000" stroke-width="2.6"/>
<line x1="189.5" y1="516.0" x2="189.5" y2="511.6" stroke="#000" stroke-width="2.6"/>
<line x1="232.8" y1="516.0" x2="232.8" y2="511.6" stroke="#000" stroke-width="2.6"/>
<line x1="275.0" y1="516.0" x2="275.0" y2="511.6" stroke="#000" stroke-width="2.6"/>
<rect x="115.45" y="490.05" width="17.90" height="25.95" fill="#fc0806" stroke="#080000" stroke-width="2.5"/>
<line x1="167.35" y1="497.3" x2="167.35" y2="494.4" stroke="#000" stroke-width="2.8"/>
<line x1="164.65" y1="494.7" x2="170.04999999999998" y2="494.7" stroke="#000" stroke-width="2.6"/>
<rect x="158.45" y="497.55" width="17.80" height="18.45" fill="#fc0806" stroke="#080000" stroke-width="2.5"/>
<line x1="210.45" y1="438.4" x2="210.45" y2="419.2" stroke="#000" stroke-width="2.8"/>
<line x1="207.75" y1="419.5" x2="213.14999999999998" y2="419.5" stroke="#000" stroke-width="2.6"/>
<rect x="201.55" y="438.65" width="17.80" height="77.35" fill="#fc0806" stroke="#080000" stroke-width="2.5"/>
<line x1="253.45" y1="481.9" x2="253.45" y2="475.3" stroke="#000" stroke-width="2.8"/>
<line x1="250.75" y1="475.6" x2="256.15" y2="475.6" stroke="#000" stroke-width="2.6"/>
<rect x="244.65" y="482.15" width="17.60" height="33.85" fill="#fc0806" stroke="#080000" stroke-width="2.5"/>
<text x="166.9" y="500.1" font-size="27" font-weight="bold" text-anchor="middle">*</text>
<text x="210.7" y="425.1" font-size="27" font-weight="bold" text-anchor="middle">*</text>
<text x="253.3" y="480.8" font-size="27" font-weight="bold" text-anchor="middle">*</text>
<text x="230.0" y="395.59999999999997" font-size="12.9" font-weight="bold" text-anchor="middle" font-style="italic">p&lt;0.05</text>
<line x1="210.9" y1="396.8" x2="250.2" y2="396.8" stroke="#777" stroke-width="0.7"/>
<line x1="209.8" y1="400.3" x2="252.6" y2="400.3" stroke="#000" stroke-width="2.8"/>
<text x="122.8" y="537.0" font-size="20" font-weight="bold" text-anchor="middle">-</text>
<text x="122.8" y="556.6" font-size="20" font-weight="bold" text-anchor="middle">-</text>
<text x="165.8" y="537.0" font-size="20" font-weight="bold" text-anchor="middle">-</text>
<text x="165.8" y="557.1" font-size="19" font-weight="bold" text-anchor="middle">+</text>
<text x="208.6" y="537.5" font-size="19" font-weight="bold" text-anchor="middle">+</text>
<text x="208.6" y="556.6" font-size="20" font-weight="bold" text-anchor="middle">-</text>
<text x="252.2" y="537.5" font-size="19" font-weight="bold" text-anchor="middle">+</text>
<text x="252.2" y="557.1" font-size="19" font-weight="bold" text-anchor="middle">+</text>
<text transform="translate(15.8 533.6) scale(1 1.045)" font-size="14.8" font-weight="bold" text-anchor="start">WT FoxO3a</text>
<text transform="translate(0.4 554.8) scale(1 1.045)" font-size="15.0" font-weight="bold" text-anchor="start">FoxM1 vector</text>
<text transform="translate(310.0 401.2) scale(1 1.045)" font-size="14.6" font-weight="bold" text-anchor="start">RAD51</text>
<line x1="305.8" y1="409.3" x2="305.8" y2="517.6" stroke="#000" stroke-width="2.7"/>
<text x="292.4" y="521.8" font-size="14.2" font-weight="bold" text-anchor="end">0</text>
<line x1="305.8" y1="489.6" x2="310.6" y2="489.6" stroke="#000" stroke-width="2.5"/>
<text x="292.4" y="495.40000000000003" font-size="14.2" font-weight="bold" text-anchor="end">1</text>
<line x1="305.8" y1="463.2" x2="310.6" y2="463.2" stroke="#000" stroke-width="2.5"/>
<text x="292.4" y="469.0" font-size="14.2" font-weight="bold" text-anchor="end">2</text>
<line x1="305.8" y1="436.8" x2="310.6" y2="436.8" stroke="#000" stroke-width="2.5"/>
<text x="292.4" y="442.6" font-size="14.2" font-weight="bold" text-anchor="end">3</text>
<line x1="305.8" y1="410.4" x2="310.6" y2="410.4" stroke="#000" stroke-width="2.5"/>
<text x="292.4" y="416.2" font-size="14.2" font-weight="bold" text-anchor="end">4</text>
<line x1="304.45" y1="516.3" x2="479.7" y2="516.3" stroke="#000" stroke-width="2.8"/>
<line x1="348.8" y1="516.0" x2="348.8" y2="511.6" stroke="#000" stroke-width="2.6"/>
<line x1="391.6" y1="516.0" x2="391.6" y2="511.6" stroke="#000" stroke-width="2.6"/>
<line x1="435.1" y1="516.0" x2="435.1" y2="511.6" stroke="#000" stroke-width="2.6"/>
<line x1="478.5" y1="516.0" x2="478.5" y2="511.6" stroke="#000" stroke-width="2.6"/>
<rect x="318.35" y="490.55" width="17.30" height="25.45" fill="#fc0806" stroke="#080000" stroke-width="2.5"/>
<line x1="370.35" y1="456.7" x2="370.35" y2="451.2" stroke="#000" stroke-width="2.8"/>
<line x1="367.65000000000003" y1="451.5" x2="373.05" y2="451.5" stroke="#000" stroke-width="2.6"/>
<rect x="361.45" y="456.95" width="17.80" height="59.05" fill="#fc0806" stroke="#080000" stroke-width="2.5"/>
<line x1="413.65" y1="500.0" x2="413.65" y2="497.2" stroke="#000" stroke-width="2.8"/>
<line x1="410.95" y1="497.5" x2="416.34999999999997" y2="497.5" stroke="#000" stroke-width="2.6"/>
<rect x="404.75" y="500.25" width="17.80" height="15.75" fill="#fc0806" stroke="#080000" stroke-width="2.5"/>
<line x1="456.5" y1="461.5" x2="456.5" y2="448.4" stroke="#000" stroke-width="2.8"/>
<line x1="453.8" y1="448.7" x2="459.2" y2="448.7" stroke="#000" stroke-width="2.6"/>
<rect x="447.75" y="461.75" width="17.50" height="54.25" fill="#fc0806" stroke="#080000" stroke-width="2.5"/>
<text x="370.6" y="457.2" font-size="27" font-weight="bold" text-anchor="middle">*</text>
<text x="413.6" y="503.8" font-size="27" font-weight="bold" text-anchor="middle">*</text>
<text x="456.5" y="454.6" font-size="27" font-weight="bold" text-anchor="middle">*</text>
<text x="435.09999999999997" y="423.59999999999997" font-size="12.9" font-weight="bold" text-anchor="middle" font-style="italic">p&lt;0.02</text>
<line x1="415.7" y1="424.8" x2="455.6" y2="424.8" stroke="#777" stroke-width="0.7"/>
<line x1="414.59999999999997" y1="428.40000000000003" x2="458.0" y2="428.40000000000003" stroke="#000" stroke-width="2.8"/>
<text x="326.7" y="537.0" font-size="20" font-weight="bold" text-anchor="middle">-</text>
<text x="326.7" y="556.6" font-size="20" font-weight="bold" text-anchor="middle">-</text>
<text x="369.6" y="537.0" font-size="20" font-weight="bold" text-anchor="middle">-</text>
<text x="369.6" y="557.1" font-size="19" font-weight="bold" text-anchor="middle">+</text>
<text x="412.8" y="537.5" font-size="19" font-weight="bold" text-anchor="middle">+</text>
<text x="412.8" y="556.6" font-size="20" font-weight="bold" text-anchor="middle">-</text>
<text x="455.8" y="537.5" font-size="19" font-weight="bold" text-anchor="middle">+</text>
<text x="455.8" y="557.1" font-size="19" font-weight="bold" text-anchor="middle">+</text>
<text transform="translate(511.8 401.2) scale(1 1.045)" font-size="14.6" font-weight="bold" text-anchor="start">BRCA2</text>
<line x1="509.8" y1="409.3" x2="509.8" y2="517.6" stroke="#000" stroke-width="2.7"/>
<text x="497.4" y="521.8" font-size="14.2" font-weight="bold" text-anchor="end">0</text>
<line x1="509.8" y1="489.6" x2="514.6" y2="489.6" stroke="#000" stroke-width="2.5"/>
<text x="497.4" y="495.40000000000003" font-size="14.2" font-weight="bold" text-anchor="end">1</text>
<line x1="509.8" y1="463.2" x2="514.6" y2="463.2" stroke="#000" stroke-width="2.5"/>
<text x="497.4" y="469.0" font-size="14.2" font-weight="bold" text-anchor="end">2</text>
<line x1="509.8" y1="436.8" x2="514.6" y2="436.8" stroke="#000" stroke-width="2.5"/>
<text x="497.4" y="442.6" font-size="14.2" font-weight="bold" text-anchor="end">3</text>
<line x1="509.8" y1="410.4" x2="514.6" y2="410.4" stroke="#000" stroke-width="2.5"/>
<text x="497.4" y="416.2" font-size="14.2" font-weight="bold" text-anchor="end">4</text>
<line x1="508.45" y1="516.3" x2="684.6" y2="516.3" stroke="#000" stroke-width="2.8"/>
<line x1="552.8" y1="516.0" x2="552.8" y2="511.6" stroke="#000" stroke-width="2.6"/>
<line x1="595.6" y1="516.0" x2="595.6" y2="511.6" stroke="#000" stroke-width="2.6"/>
<line x1="638.8" y1="516.0" x2="638.8" y2="511.6" stroke="#000" stroke-width="2.6"/>
<line x1="683.4" y1="516.0" x2="683.4" y2="511.6" stroke="#000" stroke-width="2.6"/>
<rect x="522.75" y="490.55" width="17.40" height="25.45" fill="#fc0806" stroke="#080000" stroke-width="2.5"/>
<line x1="574.2" y1="461.5" x2="574.2" y2="452.6" stroke="#000" stroke-width="2.8"/>
<line x1="571.5" y1="452.90000000000003" x2="576.9000000000001" y2="452.90000000000003" stroke="#000" stroke-width="2.6"/>
<rect x="565.45" y="461.75" width="17.50" height="54.25" fill="#fc0806" stroke="#080000" stroke-width="2.5"/>
<line x1="617.25" y1="498.7" x2="617.25" y2="495.8" stroke="#000" stroke-width="2.8"/>
<line x1="614.55" y1="496.1" x2="619.95" y2="496.1" stroke="#000" stroke-width="2.6"/>
<rect x="608.55" y="498.95" width="17.40" height="17.05" fill="#fc0806" stroke="#080000" stroke-width="2.5"/>
<line x1="660.35" y1="459.8" x2="660.35" y2="445.0" stroke="#000" stroke-width="2.8"/>
<line x1="657.65" y1="445.3" x2="663.0500000000001" y2="445.3" stroke="#000" stroke-width="2.6"/>
<rect x="651.85" y="460.05" width="17.00" height="55.95" fill="#fc0806" stroke="#080000" stroke-width="2.5"/>
<text x="574.0" y="459.7" font-size="27" font-weight="bold" text-anchor="middle">*</text>
<text x="617.7" y="501.9" font-size="27" font-weight="bold" text-anchor="middle">*</text>
<text x="661.0" y="452.7" font-size="27" font-weight="bold" text-anchor="middle">*</text>
<text x="638.95" y="421.79999999999995" font-size="12.9" font-weight="bold" text-anchor="middle" font-style="italic">p&lt;0.03</text>
<line x1="619.8" y1="423.0" x2="659.2" y2="423.0" stroke="#777" stroke-width="0.7"/>
<line x1="618.6999999999999" y1="426.3" x2="661.6" y2="426.3" stroke="#000" stroke-width="2.8"/>
<text x="530.8" y="537.0" font-size="20" font-weight="bold" text-anchor="middle">-</text>
<text x="530.8" y="556.6" font-size="20" font-weight="bold" text-anchor="middle">-</text>
<text x="574.0" y="537.0" font-size="20" font-weight="bold" text-anchor="middle">-</text>
<text x="574.0" y="557.1" font-size="19" font-weight="bold" text-anchor="middle">+</text>
<text x="617.0" y="537.5" font-size="19" font-weight="bold" text-anchor="middle">+</text>
<text x="617.0" y="556.6" font-size="20" font-weight="bold" text-anchor="middle">-</text>
<text x="660.2" y="537.5" font-size="19" font-weight="bold" text-anchor="middle">+</text>
<text x="660.2" y="557.1" font-size="19" font-weight="bold" text-anchor="middle">+</text>
<text x="141.6" y="610.0" font-size="22.5" font-weight="bold" text-anchor="start">b</text>
<text transform="translate(311.5 613.4) scale(1 1.045)" font-size="16.5" font-weight="bold" text-anchor="middle">Collagen matrix</text>
<text transform="translate(150.2,719.7) rotate(-90)" font-size="16.2" font-weight="normal" letter-spacing="0.52" stroke="#0a0a0a" stroke-width="0.45" text-anchor="middle">Cell viability (%)</text>
<line x1="201.0" y1="637.8" x2="201.0" y2="794.0" stroke="#000" stroke-width="3.6"/>
<line x1="201" y1="639.6" x2="205.6" y2="639.6" stroke="#000" stroke-width="3.0"/>
<text transform="translate(190.2 645.0) scale(1 1.045)" font-size="15.4" font-weight="normal" text-anchor="end" stroke="#0a0a0a" stroke-width="0.45">120</text>
<line x1="201" y1="695.0" x2="205.6" y2="695.0" stroke="#000" stroke-width="3.0"/>
<text transform="translate(190.2 700.4) scale(1 1.045)" font-size="15.4" font-weight="normal" text-anchor="end" stroke="#0a0a0a" stroke-width="0.45">100</text>
<line x1="201" y1="751.0" x2="205.6" y2="751.0" stroke="#000" stroke-width="3.0"/>
<text transform="translate(190.2 756.4) scale(1 1.045)" font-size="15.4" font-weight="normal" text-anchor="end" stroke="#0a0a0a" stroke-width="0.45">80</text>
<text transform="translate(190.2 809.6) scale(1 1.045)" font-size="15.4" font-weight="bold" text-anchor="end">0</text>
<line x1="199.2" y1="806.3" x2="443.4" y2="806.3" stroke="#000" stroke-width="3.8"/>
<line x1="238.2" y1="801.9" x2="238.2" y2="806.3" stroke="#000" stroke-width="3.6"/>
<text x="237.79999999999998" y="826.8" font-size="15.4" font-weight="bold" text-anchor="middle">3</text>
<line x1="321.2" y1="801.9" x2="321.2" y2="806.3" stroke="#000" stroke-width="3.6"/>
<text x="320.8" y="826.8" font-size="15.4" font-weight="bold" text-anchor="middle">4</text>
<line x1="403.2" y1="801.9" x2="403.2" y2="806.3" stroke="#000" stroke-width="3.6"/>
<text x="402.8" y="826.8" font-size="15.4" font-weight="bold" text-anchor="middle">5</text>
<text transform="translate(196.4 826.2) scale(1 1.045)" font-size="16.0" font-weight="bold" text-anchor="end">Time (days)</text>
<line x1="203" y1="695.8" x2="441.5" y2="695.8" stroke="#a27cc8" stroke-width="0.9" stroke-dasharray="2.6,2.2"/>
<line x1="212.6" y1="701.6" x2="212.6" y2="704.0" stroke="#000" stroke-width="2.4"/>
<line x1="209.6" y1="703.3000000000001" x2="215.6" y2="703.3000000000001" stroke="#000" stroke-width="3.4"/>
<rect x="207.30" y="704.80" width="10.60" height="4.60" fill="#0a16f0" stroke="#050505" stroke-width="3.6"/>
<line x1="207.5" y1="706.8" x2="217.7" y2="706.8" stroke="#0c0c9a" stroke-width="2.3"/>
<line x1="229.9" y1="688.2" x2="229.9" y2="691.3" stroke="#000" stroke-width="2.4"/>
<line x1="226.9" y1="689.9000000000001" x2="232.9" y2="689.9000000000001" stroke="#000" stroke-width="3.4"/>
<line x1="229.9" y1="713.8" x2="229.9" y2="719.8" stroke="#000" stroke-width="2.4"/>
<line x1="226.9" y1="718.0999999999999" x2="232.9" y2="718.0999999999999" stroke="#000" stroke-width="3.4"/>
<rect x="224.20" y="692.10" width="11.40" height="20.90" fill="#12b418" stroke="#050505" stroke-width="3.6"/>
<line x1="224.4" y1="695.2" x2="235.4" y2="695.2" stroke="#061006" stroke-width="2.3"/>
<line x1="247.85" y1="777.2" x2="247.85" y2="796.0" stroke="#000" stroke-width="2.4"/>
<line x1="244.85" y1="794.3" x2="250.85" y2="794.3" stroke="#000" stroke-width="3.4"/>
<rect x="242.80" y="702.30" width="10.10" height="74.60" fill="#fb6a0c" stroke="#050505" stroke-width="2.6"/>
<line x1="243.5" y1="712.4" x2="252.2" y2="712.4" stroke="#120600" stroke-width="2.3"/>
<line x1="265.3" y1="693.4" x2="265.3" y2="696.6" stroke="#000" stroke-width="2.4"/>
<line x1="262.3" y1="695.1" x2="268.3" y2="695.1" stroke="#000" stroke-width="3.4"/>
<line x1="265.3" y1="716.2" x2="265.3" y2="719.4" stroke="#000" stroke-width="2.4"/>
<line x1="262.3" y1="717.6999999999999" x2="268.3" y2="717.6999999999999" stroke="#000" stroke-width="3.4"/>
<rect x="260.00" y="697.00" width="10.60" height="18.80" fill="#fb1410" stroke="#050505" stroke-width="2.8"/>
<line x1="260.6" y1="707.4" x2="270.0" y2="707.4" stroke="#140000" stroke-width="2.3"/>
<line x1="294.6" y1="681.0" x2="294.6" y2="683.6" stroke="#000" stroke-width="2.4"/>
<line x1="291.6" y1="682.7" x2="297.6" y2="682.7" stroke="#000" stroke-width="3.4"/>
<rect x="288.90" y="684.40" width="11.40" height="24.80" fill="#0a16f0" stroke="#050505" stroke-width="3.6"/>
<line x1="289.1" y1="699.6" x2="300.1" y2="699.6" stroke="#05052a" stroke-width="2.3"/>
<line x1="312.35" y1="670.6" x2="312.35" y2="675.7" stroke="#000" stroke-width="2.4"/>
<line x1="309.35" y1="672.3000000000001" x2="315.35" y2="672.3000000000001" stroke="#000" stroke-width="3.4"/>
<line x1="312.35" y1="702.0" x2="312.35" y2="704.4" stroke="#000" stroke-width="2.4"/>
<line x1="309.35" y1="702.6999999999999" x2="315.35" y2="702.6999999999999" stroke="#000" stroke-width="3.4"/>
<rect x="306.50" y="676.50" width="11.70" height="24.70" fill="#12b418" stroke="#050505" stroke-width="3.6"/>
<line x1="306.7" y1="696.5" x2="318.0" y2="696.5" stroke="#061006" stroke-width="2.3"/>
<line x1="329.9" y1="693.6" x2="329.9" y2="696.2" stroke="#000" stroke-width="2.4"/>
<line x1="326.9" y1="695.3000000000001" x2="332.9" y2="695.3000000000001" stroke="#000" stroke-width="3.4"/>
<line x1="329.9" y1="768.3" x2="329.9" y2="786.6" stroke="#000" stroke-width="2.4"/>
<line x1="326.9" y1="784.9" x2="332.9" y2="784.9" stroke="#000" stroke-width="3.4"/>
<rect x="324.60" y="696.50" width="10.60" height="71.50" fill="#fb6a0c" stroke="#050505" stroke-width="2.6"/>
<line x1="325.3" y1="707.8" x2="334.5" y2="707.8" stroke="#120600" stroke-width="2.3"/>
<line x1="347.25" y1="682.4" x2="347.25" y2="686.2" stroke="#000" stroke-width="2.4"/>
<line x1="344.25" y1="684.1" x2="350.25" y2="684.1" stroke="#000" stroke-width="3.4"/>
<line x1="347.25" y1="708.6" x2="347.25" y2="711.2" stroke="#000" stroke-width="2.4"/>
<line x1="344.25" y1="709.5" x2="350.25" y2="709.5" stroke="#000" stroke-width="3.4"/>
<rect x="341.80" y="686.60" width="10.90" height="21.60" fill="#fb1410" stroke="#050505" stroke-width="2.8"/>
<line x1="342.4" y1="700.4" x2="352.1" y2="700.4" stroke="#140000" stroke-width="2.3"/>
<line x1="376.8" y1="666.4" x2="376.8" y2="672.5" stroke="#000" stroke-width="2.4"/>
<line x1="373.8" y1="668.1" x2="379.8" y2="668.1" stroke="#000" stroke-width="3.4"/>
<line x1="376.8" y1="699.0" x2="376.8" y2="702.0" stroke="#000" stroke-width="2.4"/>
<line x1="373.8" y1="700.3" x2="379.8" y2="700.3" stroke="#000" stroke-width="3.4"/>
<rect x="371.10" y="673.30" width="11.40" height="24.90" fill="#0a16f0" stroke="#050505" stroke-width="3.6"/>
<line x1="371.3" y1="694.4" x2="382.3" y2="694.4" stroke="#05052a" stroke-width="2.3"/>
<line x1="393.9" y1="686.0" x2="393.9" y2="688.3" stroke="#000" stroke-width="2.4"/>
<line x1="390.9" y1="687.7" x2="396.9" y2="687.7" stroke="#000" stroke-width="3.4"/>
<line x1="393.9" y1="729.6" x2="393.9" y2="741.0" stroke="#000" stroke-width="2.4"/>
<line x1="390.9" y1="739.3" x2="396.9" y2="739.3" stroke="#000" stroke-width="3.4"/>
<rect x="388.20" y="689.10" width="11.40" height="39.70" fill="#12b418" stroke="#050505" stroke-width="3.6"/>
<line x1="388.4" y1="695.7" x2="399.4" y2="695.7" stroke="#061006" stroke-width="2.3"/>
<line x1="412.4" y1="693.6" x2="412.4" y2="701.4" stroke="#000" stroke-width="2.4"/>
<line x1="409.4" y1="695.3000000000001" x2="415.4" y2="695.3000000000001" stroke="#000" stroke-width="3.4"/>
<line x1="412.4" y1="771.7" x2="412.4" y2="782.2" stroke="#000" stroke-width="2.4"/>
<line x1="409.4" y1="780.5" x2="415.4" y2="780.5" stroke="#000" stroke-width="3.4"/>
<rect x="407.10" y="701.70" width="10.60" height="69.70" fill="#fb6a0c" stroke="#050505" stroke-width="2.6"/>
<line x1="407.8" y1="733.3" x2="417.0" y2="733.3" stroke="#120600" stroke-width="2.3"/>
<line x1="429.75" y1="730.4" x2="429.75" y2="734.4" stroke="#000" stroke-width="2.4"/>
<line x1="426.75" y1="732.6999999999999" x2="432.75" y2="732.6999999999999" stroke="#000" stroke-width="3.4"/>
<rect x="424.60" y="708.90" width="10.30" height="21.10" fill="#fb1410" stroke="#050505" stroke-width="2.8"/>
<line x1="425.2" y1="714.4" x2="434.3" y2="714.4" stroke="#140000" stroke-width="2.3"/>
<text x="212.3" y="705.9" font-size="24" font-weight="bold" text-anchor="middle">*</text>
<text x="247.4" y="707.2" font-size="24" font-weight="bold" text-anchor="middle">*</text>
<text x="329.9" y="698.6" font-size="24" font-weight="bold" text-anchor="middle">*</text>
<text x="411.0" y="698.5" font-size="24" font-weight="bold" text-anchor="middle">*</text>
<text transform="translate(342.0 667.6) scale(1 1.045)" font-size="14.1" font-weight="bold" text-anchor="middle" font-style="italic">p=0.05</text>
<line x1="329.0" y1="673.2" x2="349.0" y2="673.2" stroke="#000" stroke-width="3.4"/>
<text transform="translate(424.4 670.7) scale(1 1.045)" font-size="14.0" font-weight="bold" text-anchor="middle" font-style="italic">p&lt;0.03</text>
<line x1="411.8" y1="677.6" x2="431.8" y2="677.6" stroke="#000" stroke-width="3.0"/>
<rect x="456.55" y="624.25" width="10.90" height="10.50" fill="#0a55e2" stroke="#050505" stroke-width="2.7"/>
<text transform="translate(472.6 634.6) scale(1 1.045)" font-size="14" font-weight="bold" text-anchor="start">GFP + Empty vector</text>
<rect x="456.55" y="642.55" width="10.90" height="10.50" fill="#8ccc55" stroke="#050505" stroke-width="2.7"/>
<text transform="translate(472.6 652.9) scale(1 1.045)" font-size="14" font-weight="bold" text-anchor="start">GFP + FoxM1 vector</text>
<rect x="456.55" y="661.05" width="10.90" height="10.50" fill="#f0aa7a" stroke="#050505" stroke-width="2.7"/>
<text transform="translate(472.6 671.4) scale(1 1.045)" font-size="14" font-weight="bold" text-anchor="start">WT FoxO3a + Empty vector</text>
<rect x="456.55" y="679.75" width="10.90" height="10.50" fill="#f80808" stroke="#050505" stroke-width="2.7"/>
<text transform="translate(472.6 690.1) scale(1 1.045)" font-size="14" font-weight="bold" text-anchor="start">WT FoxO3a + FoxM1 vector</text>
</svg></body></html>
